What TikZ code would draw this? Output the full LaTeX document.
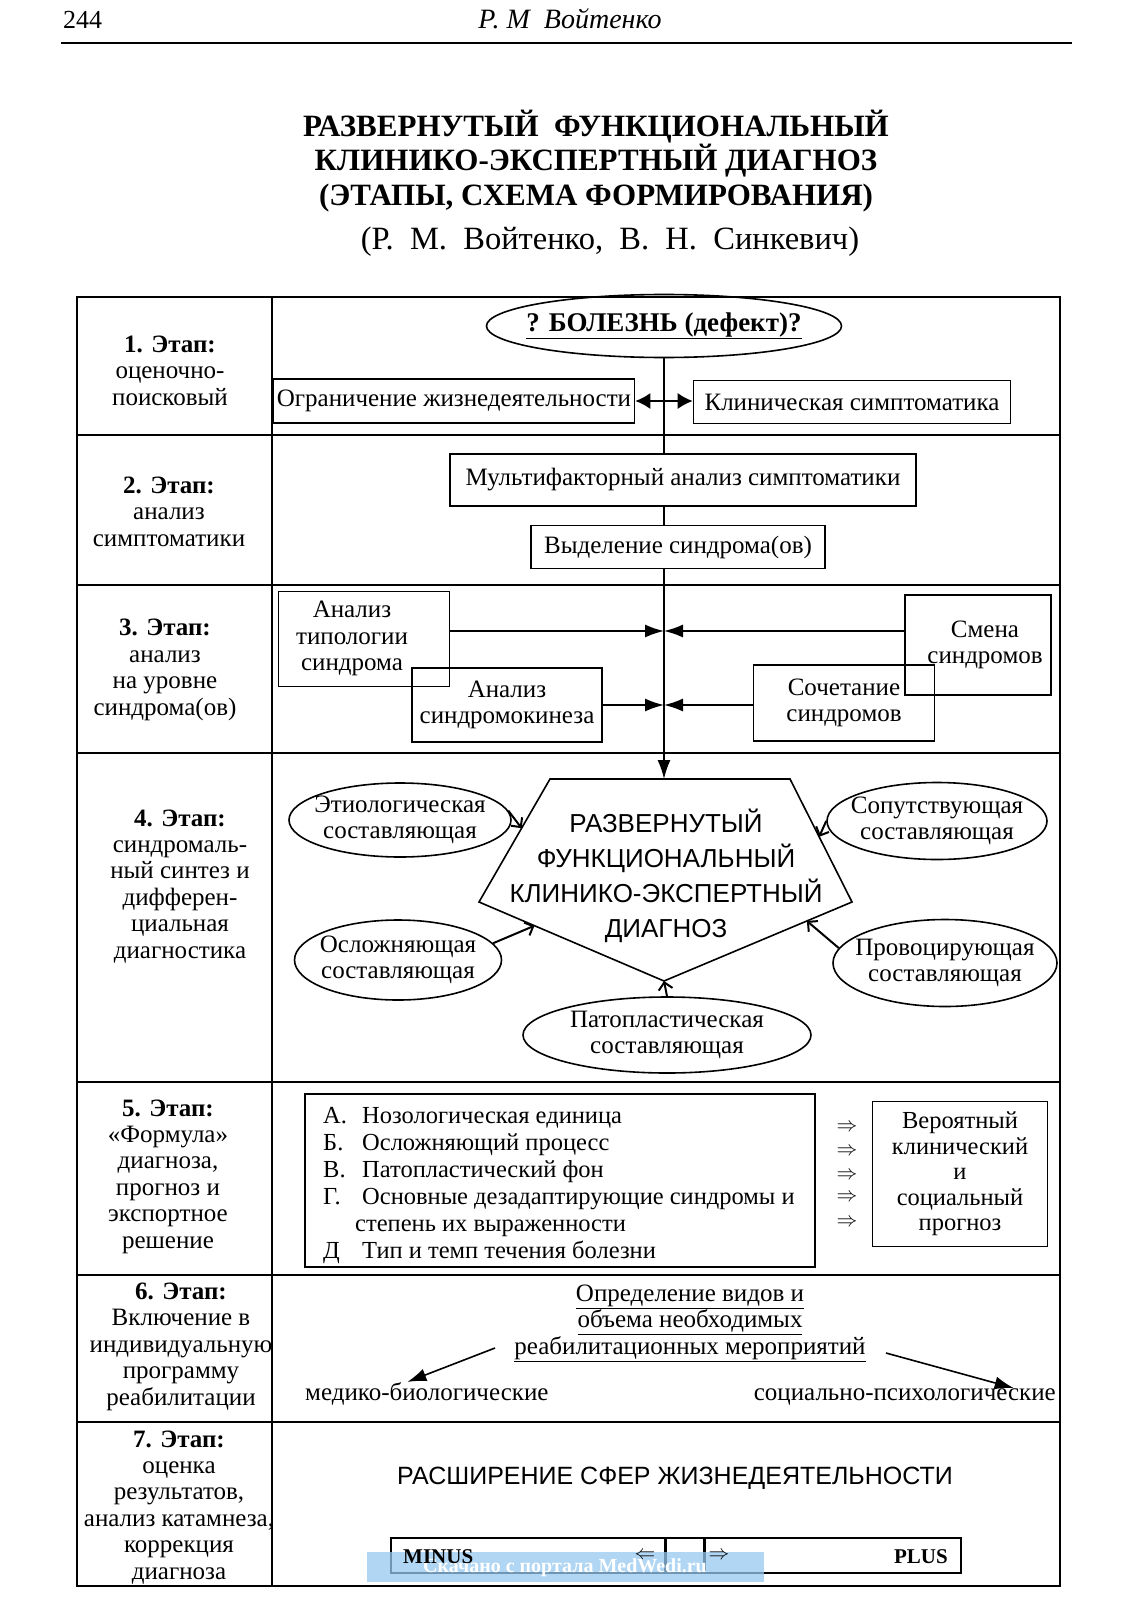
\documentclass[tikz,border=0pt]{standalone}
\usepackage{fontspec}
\setmainfont{Liberation Serif}
\newfontfamily\arialfont{Liberation Sans}
\usetikzlibrary{arrows.meta,calc,shapes.geometric}
\newcommand{\txtsize}{\fontsize{25}{26.4}\selectfont}
\definecolor{wmblue}{RGB}{150,200,240}

\begin{document}
\begin{tikzpicture}[x=1pt,y=-1pt,
    every node/.style={font=\txtsize, inner sep=0pt},
    frame/.style={line width=1.8pt},
    box/.style={draw, line width=1.6pt, align=center},
    oval/.style={draw, ellipse, line width=1.6pt, align=center, inner sep=-12pt},
    stage/.style={anchor=base, align=center},
    solid arrow/.style={line width=1.6pt, -{Latex[length=19pt,width=13pt]}},
    barb arrow/.style={line width=2pt, -{Straight Barb[length=7pt,width=14pt]}}]

    \useasboundingbox (0,0) rectangle (1131,1600);

    % Define the columns of the table and the main line
    \def\xL{77}
    \def\xM{272}
    \def\xR{1060}
    \def\xC{664}

    % Page head
    \node (pagenum) at (63,29) [anchor=base west, font=\fontsize{26}{26}\selectfont] {244};
    \node (runhead) at (570,29) [anchor=base, font=\fontsize{28}{28}\selectfont\itshape] {Р. М\ \ Войтенко};
    \coordinate (ruleL) at (61,43);
    \coordinate (ruleR) at (1072,43);
    \draw[line width=2.5pt] (ruleL) -- (ruleR);

    % Title (a multi-line node sits on the baseline of its last line)
    \node (title) at (596,205) [anchor=base, align=center, font=\fontsize{31}{34.5}\selectfont\bfseries]
        {РАЗВЕРНУТЫЙ\ \ ФУНКЦИОНАЛЬНЫЙ\\КЛИНИКО-ЭКСПЕРТНЫЙ ДИАГНОЗ\\(ЭТАПЫ, СХЕМА ФОРМИРОВАНИЯ)};
    \node (authors) at (610,249) [anchor=base, font=\fontsize{32.5}{32.5}\selectfont]
        {(Р.\ \ М.\ \ Войтенко,\ \ В.\ \ Н.\ \ Синкевич)};

    % Frame of the table
    \draw[frame] (\xL,297) rectangle (\xR,1586);
    \draw[frame] (\xM,297) -- (\xM,1586);
    \foreach \y in {435,585,753,1082,1275,1422}
        \draw[frame] (\xL,\y) -- (\xR,\y);

    % Names of the stages
    \node (st1) at (170,405) [stage] {\textbf{1. Этап:}\\оценочно-\\поисковый};
    \node (st2) at (169,546) [stage] {\textbf{2. Этап:}\\анализ\\симптоматики};
    \node (st3) at (165,715) [stage] {\textbf{3. Этап:}\\анализ\\на уровне\\синдрома(ов)};
    \node (st4) at (180,958) [stage] {\textbf{4. Этап:}\\синдромаль-\\ный синтез и\\дифферен-\\циальная\\диагностика};
    \node (st5) at (168,1248) [stage] {\textbf{5. Этап:}\\«Формула»\\диагноза,\\прогноз и\\экспортное\\решение};
    \node (st6) at (181,1405) [stage] {\textbf{6. Этап:}\\Включение в\\индивидуальную\\программу\\реабилитации};
    \node (st7) at (179,1579) [stage] {\textbf{7. Этап:}\\оценка\\результатов,\\анализ катамнеза,\\коррекция\\диагноза};

    % Stage 1 and 2
    \node (disease) at (\xC,326) [oval, minimum width=326, minimum height=63, font=\fontsize{27}{27}\selectfont\bfseries]
        {\underline{? БОЛЕЗНЬ (дефект)?}};
    \node (limit) at (454,401) [box, minimum width=361, minimum height=44] {Ограничение жизнедеятельности};
    \node (clinic) at (852,402) [box, minimum width=317, minimum height=43] {Клиническая симптоматика};
    \draw[line width=1.6pt, {Latex[length=15pt,width=16pt]}-{Latex[length=15pt,width=16pt]}]
        (limit.east) -- (limit.east -| clinic.west);
    \node (multi) at (683,480) [box, minimum width=466, minimum height=52] {Мультифакторный анализ симптоматики};
    \node (syndr) at (678,547) [box, minimum width=294, minimum height=43] {Выделение синдрома(ов)};

    % Pentagon of the diagnosis
    \coordinate (pTL) at (550,779);
    \coordinate (pTR) at (790,779);
    \coordinate (pR) at (852,902);
    \coordinate (pB) at (\xC,981);
    \coordinate (pL) at (479,902);
    \coordinate (ptop) at (\xC,779);
    \draw[line width=1.6pt] (pTL) -- (pTR) -- (pR) -- (pB) -- (pL) -- cycle;
    \node (dx) at (666,937) [anchor=base, align=center, font=\arialfont\fontsize{26}{35}\selectfont]
        {РАЗВЕРНУТЫЙ\\ФУНКЦИОНАЛЬНЫЙ\\КЛИНИКО-ЭКСПЕРТНЫЙ\\ДИАГНОЗ};

    % The main line from top to the pentagon
    \draw[line width=1.6pt] (disease.south) -- (disease.south |- multi.north);
    \draw[line width=1.6pt] (multi.south -| disease.south) -- (syndr.north -| disease.south);
    \draw[solid arrow] (syndr.south -| disease.south) -- (ptop);

    % Stage 3
    \coordinate (hitA) at (\xC,631);
    \coordinate (hitB) at (\xC,705);
    \node (typol) at (364,639) [box, minimum width=171, minimum height=95]
        {\begin{tabular}{@{}c@{\hspace{24pt}}}Анализ\\типологии\\синдрома\end{tabular}};
    \node (kinez) at (507,705) [box, minimum width=190, minimum height=74] {Анализ\\синдромокинеза};
    \node (change) at (978,645) [box, minimum width=146, minimum height=100]
        {\begin{tabular}{@{\hspace{14pt}}c@{}}Смена\\синдромов\end{tabular}};
    \node (combo) at (844,703) [box, minimum width=181, minimum height=76] {Сочетание\\синдромов};
    \draw[solid arrow] (typol.east |- hitA) -- (hitA);
    \draw[solid arrow] (change.west |- hitA) -- (hitA);
    \draw[solid arrow] (kinez.east |- hitB) -- (hitB);
    \draw[solid arrow] (combo.west |- hitB) -- (hitB);

    % Stage 4: the five components
    \node (etio) at (400,820) [oval, minimum width=222, minimum height=74] {Этиологическая\\составляющая};
    \node (accomp) at (937,821) [oval, minimum width=220, minimum height=77] {Сопутствующая\\составляющая};
    \node (compl) at (398,960) [oval, minimum width=207, minimum height=80] {Осложняющая\\составляющая};
    \node (provoc) at (945,963) [oval, minimum width=224, minimum height=87] {Провоцирующая\\составляющая};
    \node (patho) at (667,1035) [oval, minimum width=288, minimum height=76] {Патопластическая\\составляющая};
    \draw[barb arrow] (etio.5) -- ($(pL)!0.6!(pTL)$);
    \draw[barb arrow] (accomp.west) -- ($(pTR)!0.47!(pR)$);
    \draw[barb arrow] (compl.10) -- ($(pL)!0.3!(pB)$);
    \draw[barb arrow] (provoc.172) -- ($(pR)!0.24!(pB)$);
    \draw[barb arrow] (patho.north) -- (pB);

    % Stage 5
    \node (formula) at (304,1093) [draw, line width=1.6pt, anchor=north west, minimum width=510, minimum height=173] {};
    \node (formtext) at (323,1123) [anchor=base west, font=\fontsize{24.5}{27}\selectfont]
        {\begin{tabular}[t]{@{}l@{}}
        \makebox[39pt][l]{А.}Нозологическая единица\\
        \makebox[39pt][l]{Б.}Осложняющий процесс\\
        \makebox[39pt][l]{В.}Патопластический фон\\
        \makebox[39pt][l]{Г.}Основные дезадаптирующие синдромы и\\
        \hspace*{32pt}степень их выраженности\\
        \makebox[39pt][l]{Д}Тип и темп течения болезни
        \end{tabular}};
    \foreach \y [count=\i] in {1128,1152,1176,1198,1223}
        \node (imp\i) at (847,\y) [font=\fontsize{22}{22}\selectfont] {$\Rightarrow$};
    \node (prog) at (960,1174) [box, minimum width=175, minimum height=145, font=\fontsize{24.5}{25.5}\selectfont]
        {Вероятный\\клинический\\и\\социальный\\прогноз};

    % Stage 6
    \node (rehab) at (690,1354) [anchor=base, align=center]
        {\underline{Определение видов и}\\\underline{объема необходимых}\\\underline{реабилитационных мероприятий}};
    \node (medbio) at (305,1400) [anchor=base west] {медико-биологические};
    \node (socpsy) at (1056,1400) [anchor=base east] {социально-психологические};
    \coordinate (rehabL) at (495,1348);
    \coordinate (rehabR) at (886,1353);
    \draw[solid arrow] (rehabL) -- ($(medbio.north west)!0.42!(medbio.north east)$);
    \draw[solid arrow] (rehabR) -- ($(socpsy.north west)!0.86!(socpsy.north east)$);

    % Stage 7
    \node (expand) at (675,1484) [anchor=base, font=\arialfont\fontsize{25}{25}\selectfont]
        {РАСШИРЕНИЕ СФЕР ЖИЗНЕДЕЯТЕЛЬНОСТИ};
    \node (minusbox) at (390,1537) [draw, line width=1.6pt, anchor=north west, minimum width=274, minimum height=35] {};
    \node (midbox) at (minusbox.north east) [draw, line width=1.6pt, anchor=north west, minimum width=37, minimum height=35] {};
    \node (plusbox) at (midbox.north east) [draw, line width=1.6pt, anchor=north west, minimum width=256, minimum height=35] {};

    % Band of the portal over the bar
    \fill[wmblue, opacity=0.75] (367,1552) rectangle (764,1582);
    \node (wm) at (565,1568) [text=white, font=\fontsize{20}{20}\selectfont\bfseries] {Скачано с портала MedWedi.ru};

    \node (minuslbl) at (403,1563) [anchor=base west, font=\fontsize{21}{21}\selectfont\bfseries] {MINUS};
    \node (pluslbl) at (948,1563) [anchor=base east, font=\fontsize{21}{21}\selectfont\bfseries] {PLUS};
    \node (larr) at (645,1556) [font=\fontsize{22}{22}\selectfont] {$\Leftarrow$};
    \node (rarr) at (719,1556) [font=\fontsize{22}{22}\selectfont] {$\Rightarrow$};
\end{tikzpicture}
\end{document}
